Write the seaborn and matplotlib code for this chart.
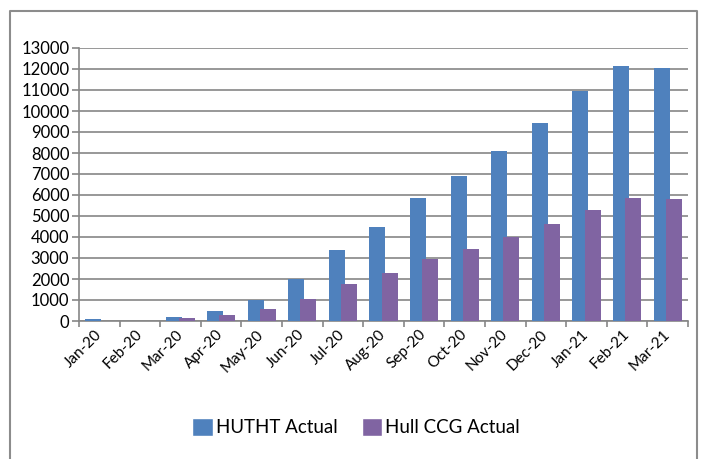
import matplotlib
matplotlib.use("Agg")
import matplotlib.pyplot as plt
import matplotlib.patches as mpatches
import pandas as pd
import seaborn as sns

# значения
months = ["Jan-20", "Feb-20", "Mar-20", "Apr-20", "May-20", "Jun-20", "Jul-20",
          "Aug-20", "Sep-20", "Oct-20", "Nov-20", "Dec-20", "Jan-21", "Feb-21",
          "Mar-21"]
huth_actual = [100, 0, 180, 470, 1000, 2000, 3400, 4470, 5880, 6900, 8100,
               9430, 10970, 12150, 12070]
hull_ccg_actual = [0, 0, 150, 280, 570, 1070, 1760, 2280, 2930, 3420, 3980,
                   4600, 5270, 5880, 5820]
series_names = ["HUTHT Actual", "Hull CCG Actual"]
colors = ["#4F81BD", "#8064A2"]

df = pd.DataFrame({
    "month": months * 2,
    "value": huth_actual + hull_ccg_actual,
    "series": [series_names[0]] * len(months) + [series_names[1]] * len(months),
})

sns.set_theme(style="white")
plt.rcParams["font.family"] = ["Lato", "DejaVu Sans"]
plt.rcParams["text.color"] = "black"
plt.rcParams["xtick.color"] = "black"
plt.rcParams["ytick.color"] = "black"

fig = plt.figure(figsize=(7.02, 4.59), dpi=100)
ax = fig.add_axes([79 / 702, 1 - 321 / 459, 609 / 702, 273 / 459])

sns.barplot(data=df, x="month", y="value", hue="series", order=months,
            hue_order=series_names, palette=colors, width=0.6, gap=-0.3,
            saturation=1, legend=False, ax=ax, zorder=3, linewidth=0)

ax.set_ylim(0, 13000)
ax.set_xlim(-0.5, len(months) - 0.5)
ax.set_yticks(range(0, 13001, 1000))
ax.yaxis.grid(True, color="#868686", linewidth=1.2, zorder=0)
ax.set_axisbelow(True)
ax.set_xlabel("")
ax.set_ylabel("")

for s in ["top", "right"]:
    ax.spines[s].set_visible(False)
for s in ["left", "bottom"]:
    ax.spines[s].set_color("#868686")
    ax.spines[s].set_linewidth(1.2)

ax.tick_params(axis="y", length=5, color="#868686", width=1.2, labelsize=12,
               pad=2, left=True, labelcolor="black")
# деления по границам категорий, подписи в центре
ax.set_xticks([i - 0.5 for i in range(len(months) + 1)], minor=True)
ax.tick_params(axis="x", which="minor", length=4, color="#868686", width=1.2,
               bottom=True)
ax.tick_params(axis="x", which="major", length=0, pad=8, labelsize=11,
               labelcolor="black")
plt.setp(ax.get_xticklabels(), rotation=45, ha="right", va="center",
         rotation_mode="anchor")

handles = [mpatches.Patch(facecolor=c, label=n) for c, n in zip(colors, series_names)]
fig.legend(handles=handles, loc="center", bbox_to_anchor=(356 / 702, 1 - 427 / 459),
           ncol=2, frameon=False, fontsize=13.5, handlelength=1.1,
           handleheight=1.1, handletextpad=0.15, columnspacing=1.3)

# рамка вокруг диаграммы
fig.add_artist(plt.Line2D([10 / 702, 10 / 702, 697 / 702, 697 / 702],
                          [0, 1 - 11 / 459, 1 - 11 / 459, 0],
                          transform=fig.transFigure, color="#8c8c8c", linewidth=1.5))

fig.savefig("out.png", dpi=100)
